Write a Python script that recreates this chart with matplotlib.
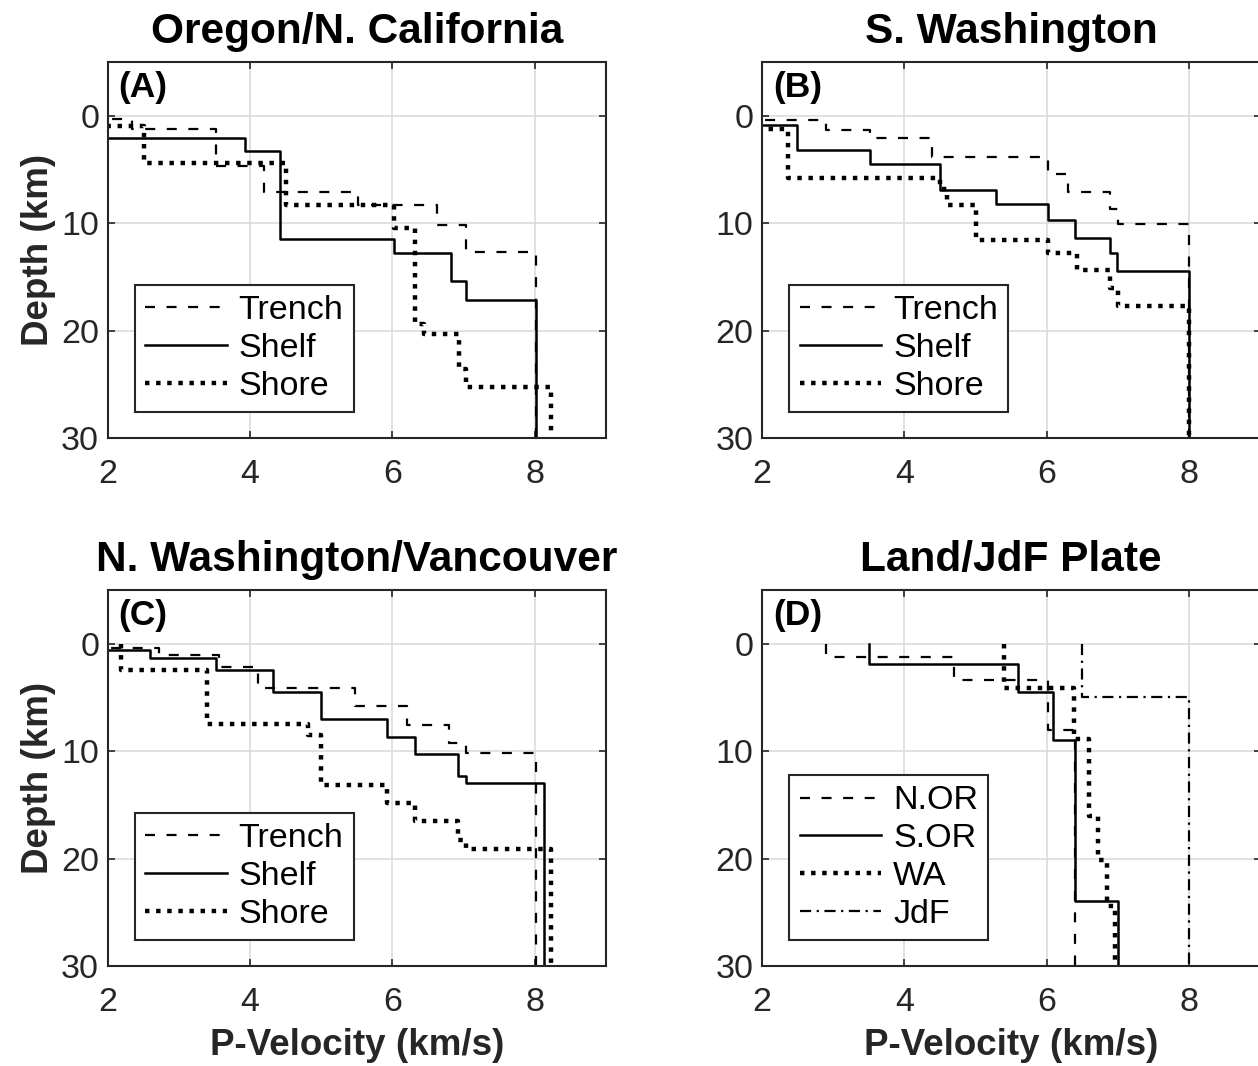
import matplotlib
matplotlib.use("Agg")
import matplotlib.pyplot as plt
import numpy as np

plt.rcParams['font.family'] = ['Liberation Sans', 'DejaVu Sans']

# layer velocities (km/s) and layer boundary depths (km), one more depth than velocities
a_trench_v = [1.5, 2.34, 3.52, 4.20, 5.52, 6.63, 7.03, 8.02]
a_trench_z = [0, 0.3, 1.24, 4.7, 7.06, 8.3, 10.2, 12.7, 30]
a_shelf_v = [1.5, 3.93, 4.42, 6.02, 6.83, 7.03, 8.02]
a_shelf_z = [0, 2.04, 3.25, 11.46, 12.79, 15.42, 17.12, 30]
a_shore_v = [1.5, 2.51, 4.51, 6.02, 6.32, 6.44, 6.93, 7.04, 8.23]
a_shore_z = [0, 1.0, 4.4, 8.3, 10.46, 19.4, 20.3, 23.6, 25.25, 30]

b_trench_v = [1.5, 2.90, 3.52, 4.39, 6.01, 6.29, 6.88, 7.0, 8.0]
b_trench_z = [0, 0.4, 1.33, 2.1, 3.87, 5.45, 7.12, 8.7, 10.1, 30]
b_shelf_v = [1.5, 2.49, 3.51, 4.5, 5.29, 6.01, 6.4, 6.88, 6.99, 8.0]
b_shelf_z = [0, 0.9, 3.19, 4.52, 6.9, 8.2, 9.75, 11.39, 12.79, 14.49, 30]
b_shore_v = [1.5, 2.37, 4.5, 4.6, 5.0, 6.01, 6.42, 6.89, 7.0, 8.0]
b_shore_z = [0, 1.2, 5.82, 6.8, 8.3, 11.55, 12.8, 14.4, 16.0, 17.7, 30]

c_trench_v = [1.5, 2.72, 3.57, 4.11, 5.47, 6.2, 6.79, 7.03, 8.02]
c_trench_z = [0, 0.4, 1.02, 2.17, 4.12, 5.82, 7.52, 9.2, 10.15, 30]
c_shelf_v = [1.5, 2.6, 3.52, 4.32, 5.0, 5.93, 6.32, 6.92, 7.03, 8.13]
c_shelf_z = [0, 0.56, 1.33, 2.48, 4.52, 7.0, 8.7, 10.31, 12.3, 13.0, 30]
c_shore_v = [2.19, 3.4, 4.81, 5.0, 5.92, 6.32, 6.92, 7.03, 8.23]
c_shore_z = [0, 2.46, 7.46, 8.5, 13.16, 14.8, 16.5, 18.3, 19.1, 30]

d_nor_v = [2.9, 4.69, 6.01, 6.39]
d_nor_z = [0, 1.24, 3.4, 8.05, 30]
d_sor_v = [3.5, 5.59, 6.08, 6.4, 7.0]
d_sor_z = [0, 1.86, 4.51, 8.99, 23.95, 30]
d_wa_v = [5.4, 6.38, 6.59, 6.72, 6.85, 6.96]
d_wa_z = [0, 4.1, 8.9, 16.0, 20.1, 24.4, 30]
d_jdf_v = [6.5, 8.0]
d_jdf_z = [0, 5.0, 30]

titles = ['Oregon/N. California', 'S. Washington',
          'N. Washington/Vancouver', 'Land/JdF Plate']
letters = ['(A)', '(B)', '(C)', '(D)']
zone_labels = ['Trench', 'Shelf', 'Shore']
plate_labels = ['N.OR', 'S.OR', 'WA', 'JdF']

DASH = (0, (4.5, 5.2))
DOT = (0, (1, 1.5))
DASHDOT = (0, (5, 2.5, 1, 2.5))
styles = [dict(ls=DASH, lw=1.6), dict(ls='-', lw=1.8),
          dict(ls=DOT, lw=3.2, dash_capstyle='butt')]
TXT = '#262626'


def steps(v, z):
    v = np.asarray(v, float)
    z = np.asarray(z, float)
    x = np.repeat(v, 2)
    y = np.column_stack([z[:-1], z[1:]]).ravel()
    return x, y


def setup(ax, title, letter, xlab, ylab):
    ax.set_xlim(2, 9)
    ax.set_ylim(30, -5)
    ax.set_xticks([2, 4, 6, 8])
    ax.set_yticks([0, 10, 20, 30])
    ax.grid(True, color='#dcdcdc', lw=1.2)
    ax.set_axisbelow(True)
    ax.tick_params(direction='in', length=5, width=1.2, top=True, right=True,
                   labelsize=24.5, colors=TXT)
    ax.tick_params(axis='x', pad=15)
    ax.tick_params(axis='y', pad=6)
    for s in ax.spines.values():
        s.set_linewidth(1.5)
        s.set_color(TXT)
    ax.set_title(title, fontsize=30.5, fontweight='bold', pad=14)
    ax.text(0.022, 0.975, letter, transform=ax.transAxes, ha='left', va='top',
            fontsize=25.5, fontweight='bold')
    if xlab:
        ax.set_xlabel('P-Velocity (km/s)', fontsize=26.5, fontweight='bold',
                      color=TXT, labelpad=7)
    if ylab:
        ax.set_ylabel('Depth (km)', fontsize=26.5, fontweight='bold',
                      color=TXT, labelpad=4)


def add_legend(ax):
    leg = ax.legend(loc='lower left', bbox_to_anchor=(0.055, 0.069),
                    borderaxespad=0, fontsize=24.5, handlelength=2.4,
                    handletextpad=0.35, labelspacing=0.2, borderpad=0.3,
                    fancybox=False, framealpha=1)
    leg.get_frame().set_edgecolor(TXT)
    leg.get_frame().set_linewidth(1.5)


fig = plt.figure(figsize=(12.58, 10.66), dpi=100)
W, H = 1258, 1066
boxes = [(107.5, 62), (762, 62), (107.5, 590), (762, 590)]
axes = [fig.add_axes([x0 / W, 1 - (y0 + 376) / H, 498.5 / W, 376 / H])
        for x0, y0 in boxes]

zone_sets = [
    [(a_trench_v, a_trench_z), (a_shelf_v, a_shelf_z), (a_shore_v, a_shore_z)],
    [(b_trench_v, b_trench_z), (b_shelf_v, b_shelf_z), (b_shore_v, b_shore_z)],
    [(c_trench_v, c_trench_z), (c_shelf_v, c_shelf_z), (c_shore_v, c_shore_z)],
]

for ax, profiles in zip(axes[:3], zone_sets):
    for (v, z), st, lab in zip(profiles, styles, zone_labels):
        x, y = steps(v, z)
        ax.plot(x, y, color='k', label=lab, **st)

plate_sets = [(d_nor_v, d_nor_z), (d_sor_v, d_sor_z), (d_wa_v, d_wa_z),
              (d_jdf_v, d_jdf_z)]
plate_styles = styles + [dict(ls=DASHDOT, lw=1.6)]
for (v, z), st, lab in zip(plate_sets, plate_styles, plate_labels):
    x, y = steps(v, z)
    axes[3].plot(x, y, color='k', label=lab, **st)

for i, ax in enumerate(axes):
    setup(ax, titles[i], letters[i], xlab=i >= 2, ylab=i % 2 == 0)
    add_legend(ax)

fig.savefig('out.png', dpi=100, facecolor='white')
